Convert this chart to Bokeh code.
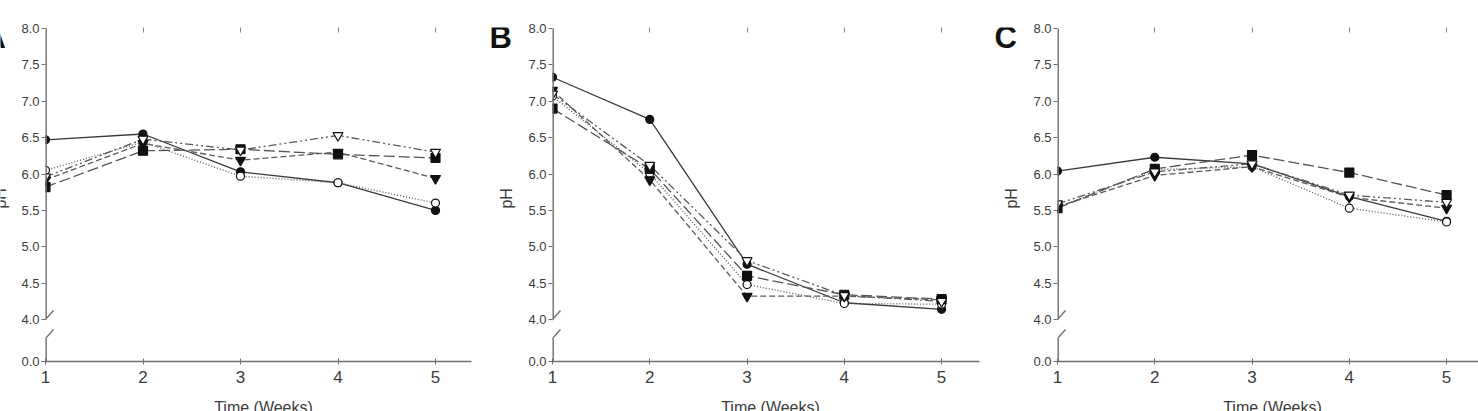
import math
from bokeh.plotting import figure
from bokeh.layouts import row, column
from bokeh.models import FixedTicker, CustomJSTickFormatter, Label, Arrow, LinearAxis, Range1d
from bokeh.embed import file_html
from bokeh.resources import INLINE

# ---- data: pH over time for five treatments, three experiments ----
weeks = [1, 2, 3, 4, 5]
panel_letters = ["A", "B", "C"]
x_title = "Time (Weeks)"
y_title = "pH"

a_filled_circle = [6.47, 6.55, 6.03, 5.88, 5.50]
a_open_circle = [6.05, 6.44, 5.97, 5.88, 5.60]
a_filled_square = [5.82, 6.32, 6.34, 6.27, 6.22]
a_filled_tri = [5.92, 6.42, 6.19, 6.30, 5.94]
a_open_tri = [5.96, 6.48, 6.33, 6.53, 6.30]

b_filled_circle = [7.33, 6.75, 4.76, 4.23, 4.14]
b_open_circle = [7.07, 6.01, 4.48, 4.22, 4.21]
b_filled_square = [6.90, 6.07, 4.60, 4.34, 4.28]
b_filled_tri = [7.15, 5.92, 4.32, 4.32, 4.27]
b_open_tri = [7.10, 6.12, 4.81, 4.33, 4.25]

c_filled_circle = [6.04, 6.23, 6.14, 5.69, 5.35]
c_open_circle = [5.54, 6.06, 6.10, 5.53, 5.34]
c_filled_square = [5.53, 6.07, 6.26, 6.02, 5.71]
c_filled_tri = [5.55, 5.98, 6.10, 5.68, 5.53]
c_open_tri = [5.59, 6.03, 6.14, 5.71, 5.61]

panel_series = [
    [a_filled_circle, a_open_circle, a_filled_square, a_filled_tri, a_open_tri],
    [b_filled_circle, b_open_circle, b_filled_square, b_filled_tri, b_open_tri],
    [c_filled_circle, c_open_circle, c_filled_square, c_filled_tri, c_open_tri],
]

y_tick_values = [4.0, 4.5, 5.0, 5.5, 6.0, 6.5, 7.0, 7.5, 8.0]

# ---- styling ----
FONT = "Liberation Sans"
AXIS_GREY = "#6f6f6f"
LABEL_GREY = "#3c3c3c"
PX_PER_PH = 72.75          # vertical scale of the upper segment
PX_PER_WEEK = 97.5
BREAK_PX = 42              # screen gap between 4.0 and the 0.0 baseline
Y_ZERO = 4.0 - BREAK_PX / PX_PER_PH   # where the "0.0" baseline sits on the compressed axis
Y_TOP = 8.0 + 1.0 / PX_PER_PH

series_styles = [
    dict(marker="circle", size=8, fill="#111111", line="#3a3a3a", dash="solid"),
    dict(marker="circle", size=8, fill="white", line="#555555", dash="1 2"),
    dict(marker="square", size=9, fill="#111111", line="#555555", dash="11 4"),
    dict(marker="inverted_triangle", size=10, fill="#111111", line="#5a5a5a", dash="6 3"),
    dict(marker="inverted_triangle", size=10, fill="white", line="#5a5a5a", dash="8 3 2 3 2 3"),
]

PANEL_H = 395              # plot row height; a thin strip below carries the x titles
STRIP_H = 16
FRAME_TOP = 27
FRAME_BOTTOM = 361
# (gutter width, panel width, panel left border, panel right border)
layout_spec = [(15, 471, 30, 15), (39, 465, 26, 11), (40, 448, 26, 0)]


def blank(width, height):
    """A bare figure whose data units are canvas pixels, measured up from its bottom."""
    g = figure(width=width, height=height, output_backend="svg", toolbar_location=None,
               title=None, x_range=Range1d(0, width), y_range=Range1d(0, height),
               x_axis_type=None, y_axis_type=None, min_border=0)
    g.outline_line_color = None
    g.grid.visible = False
    return g


def make_gutter(letter, width, axis_x):
    """Strip left of a panel holding its letter and the y title; axis_x = panel y-axis column."""
    g = blank(width, PANEL_H)
    g.add_layout(Label(x=axis_x - 45, y=PANEL_H - 202, text=y_title, angle=math.pi / 2,
                       text_align="center", text_baseline="middle", text_font=FONT,
                       text_font_size="16px", text_color=LABEL_GREY))
    g.add_layout(Label(x=axis_x - 62, y=PANEL_H - 12, text=letter, text_align="left",
                       text_baseline="alphabetic", text_font=FONT, text_font_size="31px",
                       text_font_style="bold", text_color="#111111"))
    return g


def make_panel(series, width, left, right):
    frame_w = width - left - right
    x_end = 1 + frame_w / PX_PER_WEEK
    p = figure(width=width, height=PANEL_H, output_backend="svg", toolbar_location=None,
               title=None, x_range=Range1d(1, x_end), y_range=Range1d(Y_ZERO, Y_TOP),
               min_border_left=left, min_border_right=right,
               min_border_top=FRAME_TOP, min_border_bottom=PANEL_H - FRAME_BOTTOM)
    p.outline_line_color = None
    p.grid.visible = False

    # x axis
    xa = p.xaxis[0]
    xa.ticker = FixedTicker(ticks=weeks)
    xa.axis_line_color = AXIS_GREY
    xa.axis_line_width = 1.4
    xa.major_tick_line_color = AXIS_GREY
    xa.major_tick_in = 3
    xa.major_tick_out = 3
    xa.minor_tick_line_color = None
    xa.major_label_text_font = FONT
    xa.major_label_text_font_size = "17px"
    xa.major_label_text_color = LABEL_GREY
    xa.major_label_standoff = 6

    # y axis: ticks and labels from Bokeh, broken line drawn separately
    ya = p.yaxis[0]
    ya.ticker = FixedTicker(ticks=[Y_ZERO] + y_tick_values)
    ya.formatter = CustomJSTickFormatter(code="return tick < 3.9 ? '0.0' : tick.toFixed(1);")
    ya.axis_line_color = None
    ya.major_tick_line_color = AXIS_GREY
    ya.major_tick_in = 0
    ya.major_tick_out = 4
    ya.minor_tick_line_color = None
    ya.major_label_text_font = FONT
    ya.major_label_text_font_size = "13px"
    ya.major_label_text_color = LABEL_GREY
    ya.major_label_standoff = 2

    # faint tick marks along the top edge
    top = LinearAxis(ticker=FixedTicker(ticks=weeks[1:]), axis_line_color=None,
                     major_tick_in=5, major_tick_out=0, minor_tick_line_color=None,
                     major_tick_line_color="#8a8a8a", major_label_text_font_size="1px",
                     major_label_text_alpha=0)
    p.add_layout(top, "above")

    # broken y-axis line (sits on the frame edge, so drawn double width) and slashes
    dx = 8 / PX_PER_WEEK
    dy = 9 / PX_PER_PH
    low_top = 4.0 - 19 / PX_PER_PH
    for (xs, ys, xe, ye, w) in [
        (1, 4.0, 1, 8.0, 2.8),
        (1, Y_ZERO, 1, low_top, 2.8),
        (1 - dx, 4.0 - dy, 1 + dx, 4.0 + dy, 1.4),
        (1 - dx, low_top - dy, 1 + dx, low_top + dy, 1.4),
    ]:
        p.add_layout(Arrow(x_start=xs, y_start=ys, x_end=xe, y_end=ye, end=None,
                           line_color=AXIS_GREY, line_width=w))

    # treatment lines and markers
    for vals, st in zip(series, series_styles):
        p.line(weeks, vals, line_color=st["line"], line_width=1.3, line_dash=st["dash"])
    for vals, st in zip(series, series_styles):
        p.scatter(weeks, vals, marker=st["marker"], size=st["size"],
                  fill_color=st["fill"], line_color="#111111", line_width=1.2)
    return p


children = []
title_centres = []
x0 = 0
for letter, series, (gw, pw, left, right) in zip(panel_letters, panel_series, layout_spec):
    children.append(make_gutter(letter, gw, gw + left))
    children.append(make_panel(series, pw, left, right))
    title_centres.append(x0 + gw + left + (pw - left - right) / 2 + 5)
    x0 += gw + pw

strip = blank(x0, STRIP_H)
for cx in title_centres:
    strip.add_layout(Label(x=cx, y=STRIP_H - 3, text=x_title, text_align="center",
                           text_baseline="top", text_font=FONT, text_font_size="16px",
                           text_color=LABEL_GREY))

layout = column(row(*children, spacing=0), strip, spacing=0)

open("out.html", "w").write(file_html(layout, INLINE))
